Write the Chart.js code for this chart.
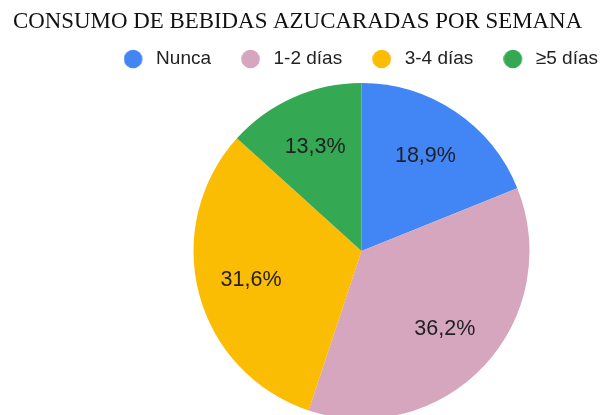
<!DOCTYPE html>
<html>
<head>
<meta charset="utf-8">
<script src="https://cdn.jsdelivr.net/npm/chart.js@4"></script>
<style>
  html, body { margin: 0; padding: 0; background: #fff; overflow: hidden; }
  #wrap { width: 601px; height: 419px; }
</style>
</head>
<body>
<div id="wrap"><canvas id="grafico"></canvas></div>
<script>
const categorias = ['Nunca', '1-2 días', '3-4 días', '≥5 días']
const porcentajes = [18.9, 36.2, 31.6, 13.3]
const colores = ['#4285F4', '#D5A6BD', '#FBBC04', '#34A853']
const titulo = 'CONSUMO DE BEBIDAS AZUCARADAS POR SEMANA'

const radio = 168

// circulo de la leyenda con hueco a la derecha
function circuloLeyenda(color) {
    let c = document.createElement('canvas')
    c.width = 23
    c.height = 20
    let ctx = c.getContext('2d')
    ctx.fillStyle = color
    ctx.beginPath()
    ctx.arc(9.5, 10, 9.3, 0, Math.PI * 2)
    ctx.fill()
    return c
}

// acomoda leyenda y area del pastel
const acomodar = {
    id: 'acomodar',
    afterLayout(chart) {
        let leyenda = chart.legend
        leyenda.top -= 22
        leyenda.bottom -= 22
        let area = chart.chartArea
        area.left += 109
        area.top = area.bottom - 2 * radio
        area.width = area.right - area.left
        area.height = area.bottom - area.top
    }
}

// etiquetas de porcentaje dentro de cada porcion
const etiquetas = {
    id: 'etiquetas',
    afterDatasetsDraw(chart) {
        let ctx = chart.ctx
        let meta = chart.getDatasetMeta(0)
        ctx.save()
        ctx.font = '21.5px "Liberation Sans", Arial, sans-serif'
        ctx.fillStyle = '#1f1f24'
        ctx.textAlign = 'center'
        ctx.textBaseline = 'middle'
        meta.data.forEach((arco, i) => {
            let p = arco.getProps(['x', 'y', 'startAngle', 'endAngle', 'outerRadius'])
            let medio = (p.startAngle + p.endAngle) / 2
            let r = p.outerRadius * 0.68
            let texto = porcentajes[i].toFixed(1).replace('.', ',') + '%'
            ctx.fillText(texto, p.x + Math.cos(medio) * r, p.y + Math.sin(medio) * r)
        })
        ctx.restore()
    }
}

new Chart(document.getElementById('grafico'), {
    type: 'pie',
    data: {
        labels: categorias,
        datasets: [{
            data: porcentajes,
            backgroundColor: colores,
            borderWidth: 0
        }]
    },
    options: {
        responsive: true,
        maintainAspectRatio: false,
        animation: false,
        radius: radio,
        layout: { padding: { left: 13, right: -27, top: 0, bottom: 0 } },
        plugins: {
            title: {
                display: true,
                text: titulo,
                align: 'start',
                color: '#111',
                font: { family: '"Liberation Serif", "Times New Roman", serif', size: 22.9, weight: 'normal' },
                padding: { top: 8, bottom: 6 }
            },
            legend: {
                position: 'top',
                align: 'end',
                labels: {
                    usePointStyle: true,
                    pointStyleWidth: 23,
                    boxHeight: 19,
                    color: '#222',
                    font: { family: '"Liberation Sans", Arial, sans-serif', size: 19 },
                    padding: 30,
                    generateLabels(chart) {
                        let items = Chart.overrides.pie.plugins.legend.labels.generateLabels(chart)
                        items.forEach((item, i) => { item.pointStyle = circuloLeyenda(colores[i]) })
                        return items
                    }
                }
            },
            tooltip: { enabled: false }
        }
    },
    plugins: [acomodar, etiquetas]
});
</script>
</body>
</html>
